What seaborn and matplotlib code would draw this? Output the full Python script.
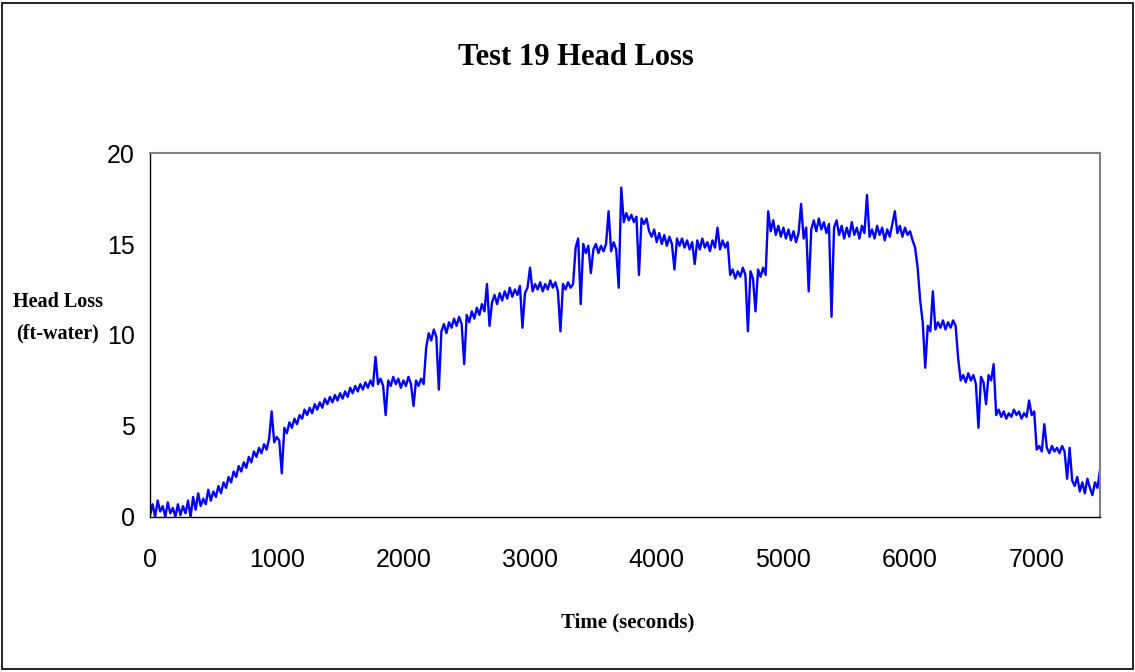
import matplotlib
matplotlib.use("Agg")
import matplotlib.pyplot as plt
from matplotlib.patches import Rectangle
import numpy as np
import pandas as pd
import seaborn as sns

# Sample times (seconds), one reading every 20 s
TIME_S = np.arange(0, 7501, 20)

# Head loss readings (ft-water) (300 s per row)
HEAD_LOSS = [
    0.1, 0.7, 0.0, 0.9, 0.3, 0.6, 0.0, 0.8, 0.2, 0.5, 0.0, 0.7, 0.1, 0.6, 0.2,
    0.9, 0.0, 1.1, 0.4, 1.3, 0.6, 1.0, 0.7, 1.5, 0.9, 1.4, 1.1, 1.7, 1.3, 1.9,
    1.6, 2.2, 1.9, 2.5, 2.2, 2.8, 2.5, 3.0, 2.7, 3.3, 3.0, 3.6, 3.3, 3.8, 3.5,
    4.0, 3.7, 4.3, 5.8, 4.1, 4.4, 4.2, 2.4, 4.9, 4.6, 5.2, 4.9, 5.4, 5.1, 5.6,
    5.4, 5.9, 5.6, 6.0, 5.7, 6.2, 5.9, 6.3, 6.0, 6.5, 6.2, 6.6, 6.3, 6.7, 6.4,
    6.8, 6.5, 6.9, 6.6, 7.1, 6.8, 7.2, 6.9, 7.3, 7.0, 7.4, 7.1, 7.5, 7.2, 8.8,
    7.3, 7.6, 7.2, 5.6, 7.5, 7.2, 7.7, 7.3, 7.6, 7.1, 7.5, 7.2, 7.7, 7.3, 6.1,
    7.5, 7.2, 7.6, 7.3, 9.3, 10.1, 9.7, 10.3, 9.9, 7.0, 10.2, 10.6, 10.1, 10.7, 10.4,
    10.9, 10.5, 11.0, 10.6, 8.4, 11.1, 10.7, 11.3, 10.9, 11.5, 11.1, 11.7, 11.3, 12.8, 10.5,
    11.8, 12.2, 11.7, 12.3, 11.9, 12.4, 12.0, 12.6, 12.1, 12.5, 12.2, 12.7, 10.4, 12.3, 12.6,
    13.7, 12.4, 12.8, 12.5, 12.9, 12.4, 12.8, 12.5, 13.0, 12.6, 12.9, 12.4, 10.2, 12.8, 12.5,
    12.9, 12.6, 12.8, 14.8, 15.3, 11.7, 15.0, 14.5, 14.9, 13.4, 14.7, 15.0, 14.5, 14.9, 14.6,
    15.0, 16.8, 14.6, 15.1, 14.7, 12.6, 18.1, 16.2, 16.7, 16.3, 16.6, 16.2, 16.5, 13.3, 16.4,
    16.1, 16.4, 15.7, 15.4, 15.8, 15.1, 15.6, 15.0, 15.5, 14.9, 15.4, 15.0, 13.6, 15.3, 14.9,
    15.3, 14.8, 15.2, 14.7, 15.1, 13.9, 15.2, 14.7, 15.3, 14.8, 15.1, 14.6, 15.2, 14.8, 15.9,
    14.7, 15.2, 14.8, 15.1, 13.3, 13.6, 13.1, 13.5, 13.2, 13.7, 13.3, 10.2, 13.5, 13.1, 11.3,
    13.6, 13.2, 13.7, 13.3, 16.8, 15.7, 16.3, 15.5, 16.0, 15.4, 15.9, 15.3, 15.8, 15.2, 15.7,
    15.1, 15.6, 17.2, 15.3, 15.9, 12.4, 15.8, 16.3, 15.7, 16.4, 15.8, 16.2, 15.6, 16.1, 11.0,
    15.9, 16.3, 15.5, 16.0, 15.3, 15.9, 15.4, 16.2, 15.5, 15.9, 15.3, 16.0, 15.6, 17.7, 15.4,
    15.8, 15.3, 16.0, 15.5, 15.9, 15.2, 15.8, 15.4, 16.1, 16.8, 15.6, 16.0, 15.4, 15.9, 15.5,
    15.7, 15.2, 14.8, 13.7, 11.9, 10.7, 8.2, 10.5, 10.2, 12.4, 10.3, 10.7, 10.4, 10.8, 10.3,
    10.7, 10.4, 10.8, 10.5, 8.7, 7.5, 7.8, 7.4, 7.9, 7.5, 7.8, 7.3, 4.9, 7.7, 7.4,
    6.2, 7.8, 7.5, 8.4, 5.6, 5.9, 5.5, 5.8, 5.4, 5.7, 5.5, 5.9, 5.6, 5.8, 5.4,
    5.7, 5.5, 6.4, 5.6, 5.8, 3.7, 3.9, 3.6, 5.1, 3.8, 3.5, 3.9, 3.6, 3.8, 3.5,
    3.9, 3.6, 2.1, 3.8, 2.0, 1.7, 2.2, 1.4, 1.9, 1.3, 2.1, 1.6, 1.2, 1.9, 1.6,
    2.6,
]

X_TICKS = [0, 1000, 2000, 3000, 4000, 5000, 6000, 7000]
Y_TICKS = [0, 5, 10, 15, 20]

TITLE = "Test 19 Head Loss"
X_LABEL = "Time (seconds)"
Y_LABEL = "Head Loss\n(ft-water)"

sns.set_style("white")
plt.rcParams["font.family"] = ["Liberation Sans Narrow", "Liberation Sans", "DejaVu Sans"]
plt.rcParams["text.color"] = "black"

df = pd.DataFrame({"time": TIME_S, "head_loss": HEAD_LOSS})

fig = plt.figure(figsize=(11.35, 6.72), dpi=100)
ax = fig.add_axes([0.1322, 0.2307, 0.9692 - 0.1322, 0.7723 - 0.2307])

sns.lineplot(data=df, x="time", y="head_loss", ax=ax, color="#0000ff", linewidth=1.7)

ax.set_xlim(0, 7500)
ax.set_ylim(0, 20)
ax.set_xticks(X_TICKS)
ax.set_yticks(Y_TICKS)
ax.set_xlabel("")
ax.set_ylabel("")
ax.tick_params(axis="both", direction="out", labelsize=18, colors="black")
ax.tick_params(axis="x", length=8, width=1, pad=14)
ax.tick_params(axis="y", length=6, width=1, pad=5)

for side in ["left", "bottom"]:
    ax.spines[side].set_color("black")
    ax.spines[side].set_linewidth(1)
for side in ["top", "right"]:
    ax.spines[side].set_visible(True)
    ax.spines[side].set_color("#808080")
    ax.spines[side].set_linewidth(1.5)

serif = ["Liberation Serif", "DejaVu Serif"]
fig.text(0.507, 0.915, TITLE, ha="center", va="center", fontsize=22,
         fontweight="bold", family=serif, color="black")
fig.text(0.553, 0.073, X_LABEL, ha="center", va="center", fontsize=15,
         fontweight="bold", family=serif, color="black")
fig.text(0.051, 0.527, Y_LABEL, ha="center", va="center", fontsize=14.5,
         fontweight="bold", family=serif, linespacing=1.75, color="black")

# outer border around the whole chart
fig.patches.append(Rectangle((0.002, 0.004), 0.996, 0.992, transform=fig.transFigure,
                             fill=False, edgecolor="black", linewidth=1.2))

fig.savefig("out.png", dpi=100)
plt.close(fig)
